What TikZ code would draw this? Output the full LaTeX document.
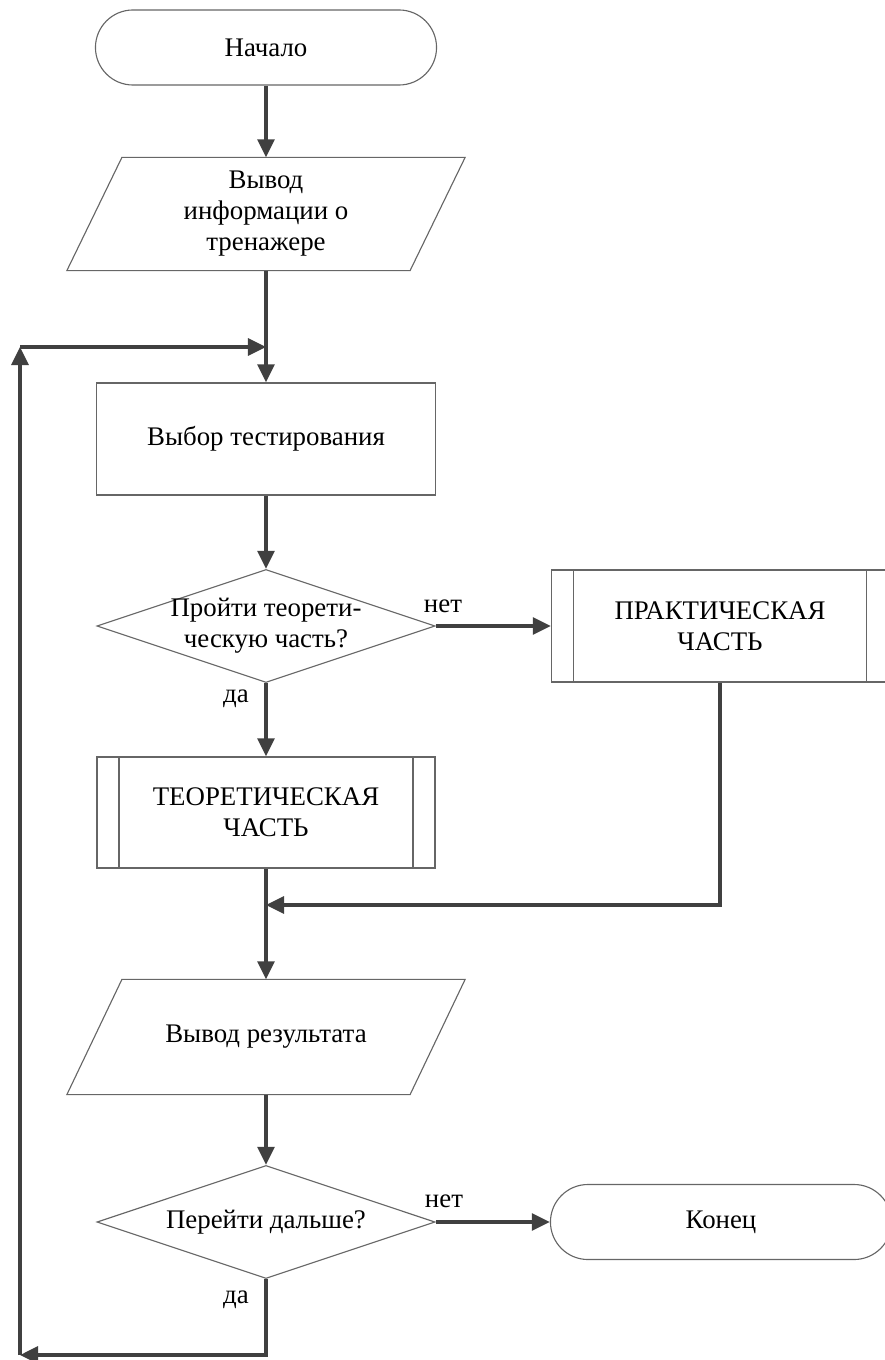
\documentclass[tikz,border=0pt]{standalone}
\usepackage{fontspec}
\setmainfont{Liberation Serif}
\usepackage{xcolor}
\usetikzlibrary{shapes.geometric, arrows.meta}
\definecolor{linegray}{HTML}{404040}
\definecolor{boxgray}{HTML}{666666}

\tikzset{
  outline/.style={draw=boxgray, line width=0.8pt},
  block/.style={outline, align=center, font=\fontsize{19.1}{22}\selectfont},
  term/.style={block, rectangle, rounded corners=0.9375cm, minimum width=8.525cm, minimum height=1.875cm},
  io/.style={block, draw=none, rectangle, minimum width=8.55cm, minimum height=2.8cm, inner sep=0pt},
  proc/.style={block, rectangle, minimum width=8.475cm, minimum height=2.8cm},
  subproc/.style={proc, path picture={
    \draw[outline] ([xshift=0.55cm]path picture bounding box.north west) -- ([xshift=0.55cm]path picture bounding box.south west)
      ([xshift=-0.55cm]path picture bounding box.north east) -- ([xshift=-0.55cm]path picture bounding box.south east);}},
  decide/.style={block, diamond, shape aspect=3, minimum width=8.45cm, minimum height=2.825cm, inner sep=-4pt},
  conn/.style={linegray, line width=2.4pt},
  lbl/.style={font=\fontsize{19.1}{22}\selectfont}
}

\begin{document}
\begin{tikzpicture}[x=0.025cm, y=-0.025cm, >={Triangle[length=0.45cm, width=0.42cm]}]
\useasboundingbox (0,0) rectangle (884,1360);
% Blocks
\node[term] (start) at (266,47.5) {Начало};
\node[io] (info) at (266,214) {Вывод\\информации о\\тренажере};
\node[proc] (select) at (266,439) {Выбор тестирования};
\node[decide] (qtheory) at (266,626) {Пройти теорети-\\ческую часть?};
\node[subproc, minimum width=8.425cm] (practice) at (720,626) {ПРАКТИЧЕСКАЯ\\ЧАСТЬ};
\node[subproc, minimum width=8.45cm, minimum height=2.775cm] (theory) at (266,812.5) {ТЕОРЕТИЧЕСКАЯ\\ЧАСТЬ};
\node[io, minimum height=2.85cm] (result) at (266,1037) {Вывод результата};
\node[decide] (qnext) at (266,1222) {Перейти дальше?};
\node[term] (finish) at (721,1222) {Конец};
% Slanted sides of the data blocks
\foreach \n in {info,result}{
\draw[outline] ([xshift=0.6875cm]\n.north west) -- ([xshift=0.6875cm]\n.north east)
  -- ([xshift=-0.6875cm]\n.south east) -- ([xshift=-0.6875cm]\n.south west) -- cycle;
}
% Answers
\node[lbl] (no1) at (443,606) {нет};
\node[lbl] (yes1) at (236,699) {да};
\node[lbl] (no2) at (444,1201) {нет};
\node[lbl] (yes2) at (236,1300) {да};
% Junctions
\coordinate (jtop) at (266,347);
\coordinate (jmid) at (266,905);
\coordinate (lbot) at (20,1355);
\coordinate (ltop) at (20,347);
% Connectors
\draw[conn,->] (start) -- (info);
\draw[conn] (info) -- (jtop);
\draw[conn,->] (jtop) -- (select);
\draw[conn,->] (select) -- (qtheory);
\draw[conn,->] (qtheory) -- (practice);
\draw[conn,->] (qtheory) -- (theory);
\draw[conn] (theory) -- (jmid);
\draw[conn,->] (practice) |- (jmid);
\draw[conn,->] (jmid) -- (result);
\draw[conn,->] (result) -- (qnext);
\draw[conn,->] (qnext) -- (finish);
% Loop back
\draw[conn,->] (qnext.south) |- (lbot);
\draw[conn,->] (lbot) -- (ltop);
\draw[conn,->] (ltop) -- (jtop);
\end{tikzpicture}
\end{document}
